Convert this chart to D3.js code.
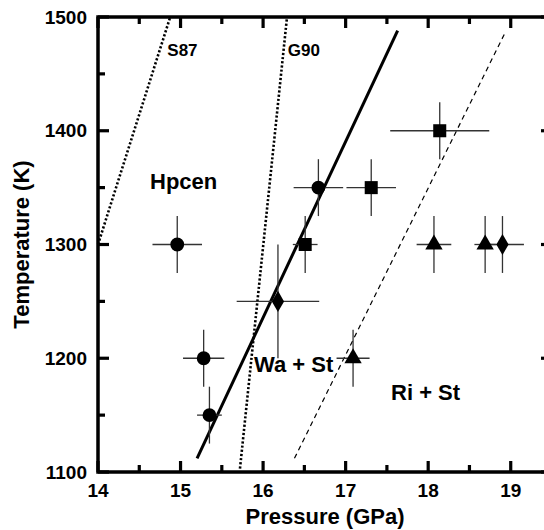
<!DOCTYPE html>
<html>
<head>
<meta charset="utf-8">
<script src="https://cdn.jsdelivr.net/npm/d3@7"></script>
<style>
  body { margin: 0; background: #fff; }
  svg { display: block; font-family: "Liberation Sans", Arial, sans-serif; font-weight: bold; }
</style>
</head>
<body>
<svg></svg>
<script>
// размеры svg и область графика
const width = 544;
const height = 530;
const margin = {left: 98, top: 17, right: -8, bottom: 58};

// данные: точки с погрешностями [P, T, dP, dT]
const circles   = [[14.96, 1300, 0.30, 25], [15.28, 1200, 0.25, 25], [15.35, 1150, 0.15, 25], [16.67, 1350, 0.30, 25]];
const squares   = [[18.14, 1400, 0.60, 25], [17.31, 1350, 0.30, 25], [16.51, 1300, 0.15, 25]];
const triangles = [[18.07, 1300, 0.21, 25], [18.69, 1300, 0.13, 25], [17.09, 1200, 0.20, 25]];
const diamonds  = [[18.90, 1300, 0.26, 25], [16.18, 1250, 0.50, 50]];

// линии фазовых границ [[P0, T0], [P1, T1]]
const lineS87   = [[14.00, 1300], [14.875, 1500]];
const lineG90   = [[15.72, 1103], [16.29, 1500]];
const lineSolid = [[15.20, 1112], [17.63, 1488]];
const lineDash  = [[16.38, 1112], [18.93, 1486]];

// подписи
const labels = [
  {text: "S87",     p: 14.84, t: 1466, size: 17},
  {text: "G90",     p: 16.30, t: 1466, size: 17},
  {text: "Hpcen",   p: 14.63, t: 1349, size: 22},
  {text: "Wa + St", p: 15.89, t: 1188, size: 22},
  {text: "Ri + St", p: 17.55, t: 1163, size: 22}
];

const xTicks = [14, 15, 16, 17, 18, 19];
const xMinor = [14.5, 15.5, 16.5, 17.5, 18.5, 19.5];
const yTicks = [1100, 1200, 1300, 1400, 1500];
const yMinor = [1150, 1250, 1350, 1450];

let svg = d3.select("svg")
    .attr("width", width)
    .attr("height", height);

const x = d3.scaleLinear().domain([14, 19.5]).range([margin.left, width - margin.right]);
const y = d3.scaleLinear().domain([1100, 1500]).range([height - margin.bottom, margin.top]);

const x0 = x.range()[0], x1 = x.range()[1];
const y0 = y.range()[0], y1 = y.range()[1];

// линии
const line = d3.line().x(d => x(d[0])).y(d => y(d[1]));

svg.append("path").attr("d", line(lineS87))
    .attr("fill", "none").attr("stroke", "#000").attr("stroke-width", 2.6).attr("stroke-dasharray", "2.2,2");
svg.append("path").attr("d", line(lineG90))
    .attr("fill", "none").attr("stroke", "#000").attr("stroke-width", 2.6).attr("stroke-dasharray", "2.2,2");
svg.append("path").attr("d", line(lineSolid))
    .attr("fill", "none").attr("stroke", "#000").attr("stroke-width", 3);
svg.append("path").attr("d", line(lineDash))
    .attr("fill", "none").attr("stroke", "#000").attr("stroke-width", 1.2).attr("stroke-dasharray", "5,4");

// погрешности
const allPoints = circles.concat(squares, triangles, diamonds);
let err = svg.append("g").attr("stroke", "#333").attr("stroke-width", 1.3);
allPoints.forEach(d => {
    err.append("line")
        .attr("x1", x(d[0] - d[2])).attr("x2", x(d[0] + d[2]))
        .attr("y1", y(d[1])).attr("y2", y(d[1]));
    err.append("line")
        .attr("x1", x(d[0])).attr("x2", x(d[0]))
        .attr("y1", y(d[1] - d[3])).attr("y2", y(d[1] + d[3]));
});

// маркеры
function drawMarkers(data, type, size) {
    svg.append("g").selectAll("path")
        .data(data)
        .join("path")
        .attr("d", d3.symbol().type(type).size(size))
        .attr("transform", d => `translate(${x(d[0])},${y(d[1])})`)
        .attr("fill", "#000");
}
drawMarkers(circles, d3.symbolCircle, 150);
drawMarkers(squares, d3.symbolSquare, 170);
drawMarkers(triangles, d3.symbolTriangle, 130);
drawMarkers(diamonds, d3.symbolDiamond, 130);

// подписи областей
svg.append("g").selectAll("text")
    .data(labels)
    .join("text")
    .attr("x", d => x(d.p))
    .attr("y", d => y(d.t))
    .style("font-size", d => d.size + "px")
    .text(d => d.text);

// засечки внутрь рамки со всех сторон
let tickMarks = svg.append("g").attr("stroke", "#000").attr("stroke-width", 3.2);
function xTickMarks(values, len) {
    tickMarks.append("g").selectAll("line").data(values).join("line")
        .attr("x1", d => x(d)).attr("x2", d => x(d))
        .attr("y1", y0).attr("y2", y0 - len);
    tickMarks.append("g").selectAll("line").data(values).join("line")
        .attr("x1", d => x(d)).attr("x2", d => x(d))
        .attr("y1", y1).attr("y2", y1 + len);
}
function yTickMarks(values, len) {
    tickMarks.append("g").selectAll("line").data(values).join("line")
        .attr("y1", d => y(d)).attr("y2", d => y(d))
        .attr("x1", x0).attr("x2", x0 + len);
    tickMarks.append("g").selectAll("line").data(values).join("line")
        .attr("y1", d => y(d)).attr("y2", d => y(d))
        .attr("x1", x1).attr("x2", x1 - len);
}
xTickMarks(xTicks, 11);
xTickMarks(xMinor, 7);
yTickMarks(yTicks, 11);
yTickMarks(yMinor, 7);

// подписи делений
svg.append("g").selectAll("text").data(xTicks).join("text")
    .attr("x", d => x(d)).attr("y", y0 + 25)
    .attr("text-anchor", "middle")
    .style("font-size", "19px")
    .text(d => d);
svg.append("g").selectAll("text").data(yTicks).join("text")
    .attr("x", x0 - 11).attr("y", d => y(d) + 6.5)
    .attr("text-anchor", "end")
    .style("font-size", "19px")
    .text(d => d);

// рамка
svg.append("rect")
    .attr("x", x0).attr("y", y1)
    .attr("width", x1 - x0).attr("height", y0 - y1)
    .attr("fill", "none").attr("stroke", "#000").attr("stroke-width", 3.5);

// названия осей
svg.append("text")
    .attr("x", (x0 + x1) / 2).attr("y", 524)
    .attr("text-anchor", "middle")
    .style("font-size", "22px")
    .text("Pressure (GPa)");

svg.append("text")
    .attr("transform", `translate(29,${(y0 + y1) / 2}) rotate(-90)`)
    .attr("text-anchor", "middle")
    .style("font-size", "22px")
    .text("Temperature (K)");
</script>
</body>
</html>
